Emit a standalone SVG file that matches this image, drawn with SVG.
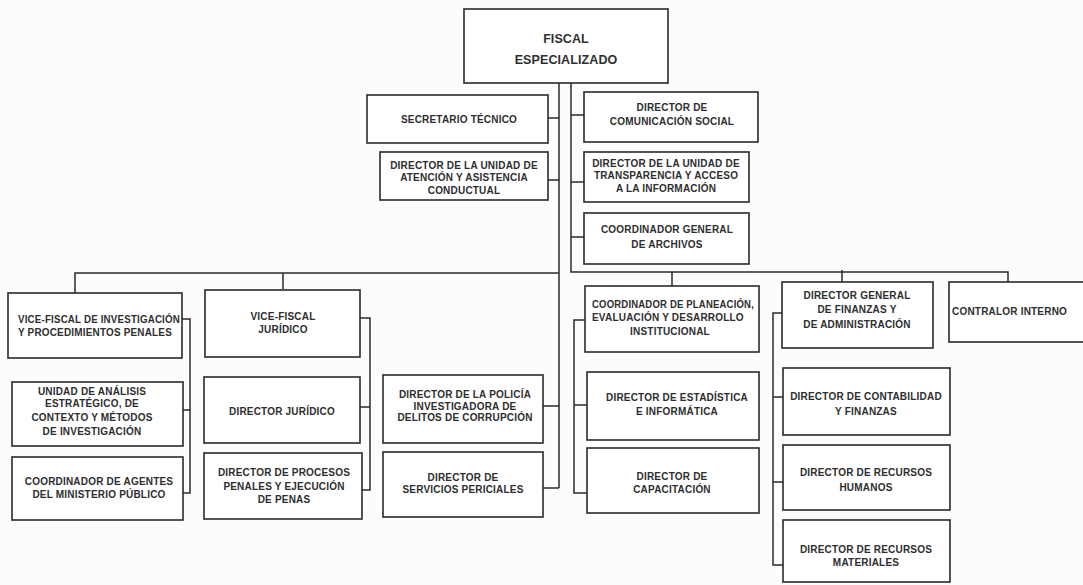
<svg xmlns="http://www.w3.org/2000/svg" width="1083" height="585" viewBox="0 0 1083 585">
<style>
.bg{fill:#fcfcfc}
.box rect{fill:#ffffff;stroke:#2a2a2a;stroke-width:1.6}
.box text{font-family:"Liberation Sans",Arial,sans-serif;font-size:10px;font-weight:bold;fill:#2e2e2e;text-anchor:middle;letter-spacing:0.2px}
.box text.big{font-size:12.5px;letter-spacing:0.1px}
.box text.l{text-anchor:start}
#connectors path{fill:none;stroke:#2a2a2a;stroke-width:1.5}
</style>
<rect class="bg" x="0" y="0" width="1083" height="585"/>
<g id="connectors">
<path d="M559,83 V488 M75,293 V273 H559 M283,289 V273"/>
<path d="M548,118 H559 M548,180 H559 M543,406 H559 M543,488 H559"/>
<path d="M571,83 V272 H672 M672,286 V272 H1008 V282 M842,270 V282"/>
<path d="M571,115 H584 M571,182 H584 M571,237 H584"/>
<path d="M182,319 H190 V493 H183 M183,410 H190"/>
<path d="M360,318 H370 V490 H362 M360,407 H370"/>
<path d="M585,320 H574 V493 H587 M574,405 H587"/>
<path d="M782,313 H773 V565 H783 M773,397 H783 M773,482 H783"/>
</g>
<g id="fiscal" class="box"><rect x="464" y="9" width="204" height="74"/><text class="big" x="566" y="43">FISCAL</text><text class="big" x="566" y="64">ESPECIALIZADO</text></g>
<g id="secretario" class="box"><rect x="367" y="95" width="181" height="48"/><text x="459" y="123">SECRETARIO TÉCNICO</text></g>
<g id="atencion" class="box"><rect x="380" y="152" width="168" height="48"/><text x="464" y="169">DIRECTOR DE LA UNIDAD DE</text><text x="464" y="181">ATENCIÓN Y ASISTENCIA</text><text x="464" y="194">CONDUCTUAL</text></g>
<g id="comunicacion" class="box"><rect x="584" y="92" width="174" height="50"/><text x="672" y="111">DIRECTOR DE</text><text x="672" y="125">COMUNICACIÓN SOCIAL</text></g>
<g id="transparencia" class="box"><rect x="584" y="152" width="165" height="50"/><text x="666" y="167">DIRECTOR DE LA UNIDAD DE</text><text x="666" y="179">TRANSPARENCIA Y ACCESO</text><text x="666" y="192">A LA INFORMACIÓN</text></g>
<g id="archivos" class="box"><rect x="584" y="213" width="165" height="51"/><text x="667" y="233">COORDINADOR GENERAL</text><text x="667" y="248">DE ARCHIVOS</text></g>
<g id="vf-investigacion" class="box"><rect x="8" y="293" width="174" height="65"/><text class="l" x="18" y="323" textLength="162" lengthAdjust="spacingAndGlyphs">VICE-FISCAL DE INVESTIGACIÓN</text><text class="l" x="18" y="336" textLength="154" lengthAdjust="spacingAndGlyphs">Y PROCEDIMIENTOS PENALES</text></g>
<g id="unidad-analisis" class="box"><rect x="12" y="382" width="171" height="64"/><text x="92" y="395">UNIDAD DE ANÁLISIS</text><text x="92" y="407">ESTRATÉGICO, DE</text><text x="92" y="421">CONTEXTO Y MÉTODOS</text><text x="92" y="435">DE INVESTIGACIÓN</text></g>
<g id="coord-agentes" class="box"><rect x="12" y="457" width="171" height="63"/><text x="99" y="485">COORDINADOR DE AGENTES</text><text x="99" y="498">DEL MINISTERIO PÚBLICO</text></g>
<g id="vf-juridico" class="box"><rect x="205" y="290" width="155" height="67"/><text x="283" y="320">VICE-FISCAL</text><text x="283" y="333">JURÍDICO</text></g>
<g id="dir-juridico" class="box"><rect x="204" y="377" width="156" height="66"/><text x="282" y="415">DIRECTOR JURÍDICO</text></g>
<g id="procesos" class="box"><rect x="204" y="453" width="158" height="66"/><text x="284" y="476">DIRECTOR DE PROCESOS</text><text x="284" y="490">PENALES Y EJECUCIÓN</text><text x="284" y="503">DE PENAS</text></g>
<g id="policia" class="box"><rect x="383" y="375" width="160" height="68"/><text x="465" y="398">DIRECTOR DE LA POLICÍA</text><text x="465" y="409.5">INVESTIGADORA DE</text><text x="465" y="421">DELITOS DE CORRUPCIÓN</text></g>
<g id="periciales" class="box"><rect x="383" y="452" width="160" height="65"/><text x="463" y="481">DIRECTOR DE</text><text x="463" y="493">SERVICIOS PERICIALES</text></g>
<g id="planeacion" class="box"><rect x="585" y="286" width="174" height="66"/><text class="l" x="592" y="308" textLength="162" lengthAdjust="spacingAndGlyphs">COORDINADOR DE PLANEACIÓN,</text><text class="l" x="592" y="321">EVALUACIÓN Y DESARROLLO</text><text x="670" y="335">INSTITUCIONAL</text></g>
<g id="estadistica" class="box"><rect x="587" y="372" width="172" height="68"/><text x="677" y="401">DIRECTOR DE ESTADÍSTICA</text><text x="677" y="415">E INFORMÁTICA</text></g>
<g id="capacitacion" class="box"><rect x="587" y="448" width="172" height="65"/><text x="672" y="480">DIRECTOR DE</text><text x="672" y="493">CAPACITACIÓN</text></g>
<g id="finanzas" class="box"><rect x="782" y="282" width="151" height="66"/><text x="857" y="299">DIRECTOR GENERAL</text><text x="857" y="313">DE FINANZAS Y</text><text x="857" y="328">DE ADMINISTRACIÓN</text></g>
<g id="contralor" class="box"><rect x="949" y="282" width="150" height="60"/><text class="l" x="952" y="315">CONTRALOR INTERNO</text></g>
<g id="contabilidad" class="box"><rect x="783" y="368" width="167" height="67"/><text x="866" y="400">DIRECTOR DE CONTABILIDAD</text><text x="866" y="415">Y FINANZAS</text></g>
<g id="rh" class="box"><rect x="783" y="445" width="167" height="65"/><text x="866" y="476">DIRECTOR DE RECURSOS</text><text x="866" y="491">HUMANOS</text></g>
<g id="materiales" class="box"><rect x="783" y="520" width="167" height="62"/><text x="866" y="553">DIRECTOR DE RECURSOS</text><text x="866" y="566">MATERIALES</text></g>
</svg>
